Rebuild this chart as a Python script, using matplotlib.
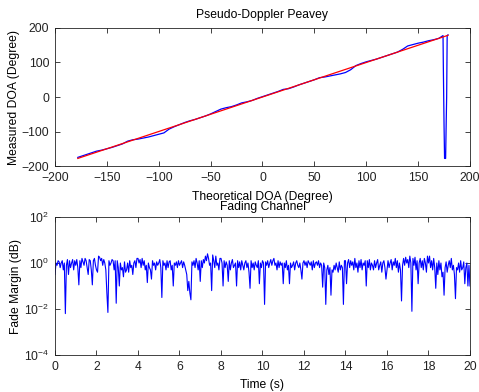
import numpy as np
import matplotlib
matplotlib.use("Agg")
import matplotlib.pyplot as plt
from matplotlib.ticker import FixedLocator, NullLocator

plt.rcParams['font.family'] = ['Liberation Sans', 'DejaVu Sans']
plt.rcParams['mathtext.default'] = 'regular'
plt.rcParams['font.size'] = 8.7

# ---- Top panel data ----
doa_theory = [-178, -175, -170, -165, -160, -155, -150, -145, -140, -135, -130, -125,
              -120, -115, -110, -105, -100, -95, -90, -85, -80, -75, -70, -65, -60,
              -55, -50, -45, -40, -35, -30, -25, -20, -15, -10, -5, 0, 5, 10, 15, 20,
              25, 30, 35, 40, 45, 50, 55, 60, 65, 70, 75, 80, 85, 90, 95, 100, 105,
              110, 115, 120, 125, 130, 135, 140, 145, 150, 155, 160, 165, 170, 174,
              174.3, 175, 175.5, 176.5, 177, 177.5, 178, 178.8]
doa_measured = [-175, -172, -167, -162, -157, -154, -150, -146, -141, -136, -128, -124,
                -122, -119, -116, -112, -108, -104, -93, -86, -80, -74, -69, -65, -60,
                -55, -49, -42, -35, -31, -28, -23, -17, -14, -10, -4, 1, 6, 11, 16, 22,
                24, 29, 35, 40, 45, 50, 56, 58, 61, 64, 67, 71, 79, 91, 97, 102, 106,
                110, 115, 120, 125, 130, 138, 148, 152, 156, 159, 163, 166, 170, 178,
                90, -85, -178, -178, -85, 0, 178, 180]
ref_theory = [-178, 178.8]
ref_measured = [-178, 178.8]

# ---- Bottom panel data (log10 of fade margin, 0.05 s steps) ----
time_step = 0.05
fade_log10 = [
    -0.5, 0.0, -0.1, 0.1, 0.05, -0.2, 0.0, 0.1, -0.3, 0.0, -2.2, -0.1, 0.15, -0.5, 0.1, -0.2, 0.0, 0.15, -0.3, 0.1,
    -0.1, 0.15, -0.2, -0.95, 0.1, -0.2, 0.2, 0.05, -0.1, 0.2, 0.1, -0.2, -0.5, 0.15, 0.1, -0.3, -0.95, 0.1, 0.2, -0.1,
    -0.3, -0.4, 0.3, 0.25, 0.1, 0.2, -0.1, 0.15, 0.0, -0.3, -1.3, -2.15, 0.1, -0.1, 0.0, 0.15, 0.1, -0.3, 0.1, -1.75,
    0.1, -0.2, -1.0, 0.0, -0.3, -0.2, -0.6, 0.05, -0.4, -0.3, 0.0, -0.4, 0.1, -0.2, -0.1, -0.5, 0.0, 0.1, -0.2, 0.2,
    0.2, 0.0, 0.15, -0.2, 0.2, -0.1, 0.1, -0.3, -0.1, -0.85, 0.0, -0.2, -0.3, -0.7, 0.1, -0.1, 0.0, -0.3, 0.05, -0.1,
    0.0, 0.15, -0.2, -1.5, 0.1, -0.1, 0.0, -0.3, 0.1, -0.2, 0.05, 0.1, -0.3, -0.1, -1.0, 0.0, -0.1, 0.05, -0.2, 0.1,
    -0.1, 0.0, 0.1, -0.2, 0.05, -0.1, -0.3, -0.5, -1.2, -0.8, -1.3, -1.6, 0.05, -0.1, 0.1, -0.2, 0.2, 0.0, -0.3, 0.1,
    -0.8, 0.1, -0.2, 0.15, 0.0, 0.3, 0.1, 0.4, 0.2, -0.1, 0.0, -1.2, 0.35, 0.1, -0.2, 0.3, -0.1, 0.0, -0.3, 0.2,
    0.2, 0.0, -1.0, 0.1, -0.2, 0.05, -0.1, -0.8, 0.1, -0.3, 0.0, 0.15, -0.2, -0.1, 0.0, -1.0, 0.1, -0.2, 0.05, -0.3,
    0.1, -0.1, -0.3, 0.0, 0.1, -0.2, 0.0, -0.4, -1.1, 0.1, -0.2, 0.0, -0.3, 0.05, -0.1, -0.2, 0.1, -0.9, 0.0, -0.2,
    0.1, 0.0, -1.8, 0.05, -0.1, 0.1, -0.2, 0.0, 0.15, -0.1, 0.1, 0.2, -0.1, 0.0, -0.3, 0.1, -0.2, 0.05, -0.1, 0.0,
    -0.9, 0.0, -0.2, 0.1, -0.3, -0.1, -0.9, 0.0, -0.2, -0.1, 0.05, -0.3, 0.0, 0.1, -0.1, -0.2, 0.0, -0.3, -0.7, 0.0,
    0.1, -0.1, 0.05, -0.2, 0.1, 0.0, -0.1, 0.05, -0.3, 0.1, -0.2, 0.0, 0.05, -0.1, 0.1, -0.2, 0.0, -0.1, -1.05, 0.0,
    -0.2, -1.8, -0.3, -0.1, -0.5, -0.2, -1.4, -0.3, -0.4, -0.1, -0.3, 0.0, -0.2, -0.4, 0.05, -0.3, -0.1, -0.2, -1.8, 0.1,
    0.1, -0.9, 0.0, 0.15, -0.2, 0.1, -0.1, 0.05, -0.3, 0.2, -0.2, 0.0, -0.4, 0.1, -0.2, 0.15, -0.3, 0.0, -0.1, 0.1,
    -1.0, 0.1, -0.2, 0.15, -0.3, 0.0, -0.1, -0.3, 0.1, -0.2, 0.0, 0.15, -0.3, -0.1, 0.05, -0.4, 0.0, 0.1, -0.2, -0.7,
    -0.3, 0.1, -0.2, 0.0, 0.15, -0.3, 0.05, -0.1, 0.2, -0.2, 0.1, -0.4, 0.0, -0.3, -1.65, -0.1, 0.2, -0.1, 0.25, 0.0,
    0.15, -0.2, 0.3, 0.0, -2.1, 0.2, -0.1, 0.25, -0.3, 0.1, -0.9, 0.0, 0.2, -0.2, 0.1, -0.3, 0.2, 0.0, -0.4, 0.3,
    0.0, 0.3, -0.2, 0.1, -0.3, 0.2, -0.2, -1.1, 0.0, -0.5, 0.1, -0.3, 0.0, -0.6, -0.4, -1.4, -0.2, 0.05, -0.4, -0.1,
    0.1, -0.2, 0.2, -0.3, -0.1, -0.5, -1.55, -0.2, -0.3, 0.0, -0.4, 0.1, -0.3, -0.2, 0.05, -0.9, -0.2, 0.0, -1.0, -0.1,
    -1.0,
]
time_s = np.arange(len(fade_log10)) * time_step
fade_margin = 10.0 ** np.array(fade_log10)

fig = plt.figure(figsize=(4.79, 3.92), dpi=100)
ax1 = fig.add_axes([0.1148, 0.5765, 0.8664, 0.3521])
ax2 = fig.add_axes([0.1148, 0.0944, 0.8664, 0.3520])

ax1.plot(doa_theory, doa_measured, color='#0000ff', lw=0.9)
ax1.plot(ref_theory, ref_measured, color='#ff0000', lw=0.9)
ax1.set_xlim(-200, 200)
ax1.set_ylim(-200, 200)
ax1.set_xticks([-200, -150, -100, -50, 0, 50, 100, 150, 200])
ax1.set_yticks([-200, -100, 0, 100, 200])
ax1.set_title('Pseudo-Doppler Peavey', fontsize=8.7, pad=7)
ax1.set_xlabel('Theoretical DOA (Degree)', labelpad=5)
ax1.set_ylabel('Measured DOA (Degree)', labelpad=1)

ax2.semilogy(time_s, fade_margin, color='#0000ff', lw=0.8)
ax2.set_xlim(0, 20)
ax2.set_ylim(1e-4, 1e2)
ax2.set_xticks(list(range(0, 21, 2)))
ax2.yaxis.set_major_locator(FixedLocator([1e-4, 1e-2, 1e0, 1e2]))
ax2.yaxis.set_minor_locator(NullLocator())
ax2.set_title('Fading Channel', fontsize=8.7, pad=5)
ax2.set_xlabel('Time (s)', labelpad=5)
ax2.set_ylabel('Fade Margin (dB)', labelpad=2)

for ax in (ax1, ax2):
    ax.tick_params(direction='in', top=True, right=True, length=3.5, width=0.6,
                   labelsize=8.7, pad=4, colors='#222222')
    for s in ax.spines.values():
        s.set_linewidth(0.6)
        s.set_color('#222222')

fig.savefig('out.png', dpi=100)
